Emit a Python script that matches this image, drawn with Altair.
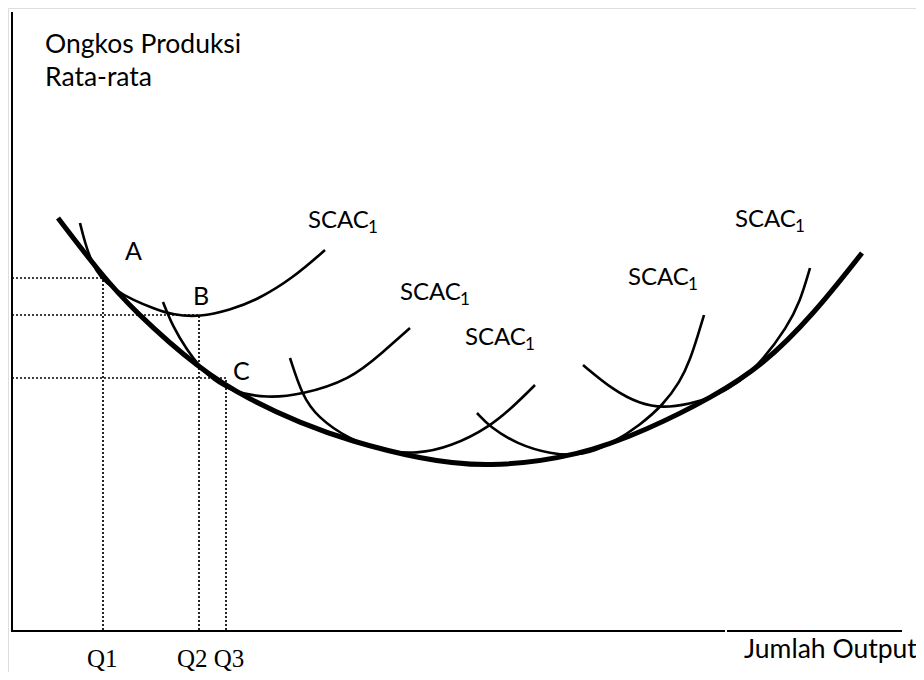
import altair as alt
import pandas as pd

# ---- curve data (x = output position, v = average cost height above axis) ----
lac_x = [58, 100, 133, 200, 250, 300, 350, 420, 487, 580, 647, 713, 763, 813, 862]
lac_v = [412, 357, 320, 260, 230, 207, 189, 171, 162, 174, 200, 233, 265, 315, 377]

scac1_x = [80, 85, 92, 100, 115, 133, 155, 173, 200, 230, 257, 293, 325]
scac1_v = [407, 387, 367, 353, 340, 330, 321, 315, 313, 320, 330, 352, 380]

scac2_x = [163, 173, 187, 200, 213, 233, 267, 300, 350, 383, 410]
scac2_v = [328, 303, 280, 263, 250, 238, 232, 235, 250, 278, 302]

scac3_x = [290, 302, 317, 350, 383, 417, 450, 490, 517, 535]
scac3_v = [272, 235, 213, 190, 179, 176, 183, 203, 227, 245]

scac4_x = [477, 490, 517, 550, 583, 613, 640, 663, 680, 690, 698, 704]
scac4_v = [217, 203, 186, 176, 174, 187, 205, 225, 248, 270, 295, 315]

scac5_x = [583, 613, 640, 663, 690, 713, 740, 763, 787, 800, 810]
scac5_v = [265, 240, 226, 222, 226, 233, 248, 270, 303, 328, 362]

# ---- reference (dotted) lines at Q1, Q2, Q3 ----
q_x = [103, 199, 226]
q_v = [352, 315, 252]

# ---- labels ----
scac_lx = [308, 400, 465, 628, 735]
scac_lv = [402, 330, 285, 345, 403]
pt_text = ["A", "B", "C"]
pt_lx = [125, 193, 233]
pt_lv = [370, 325, 250]
q_text = ["Q1", "Q2 Q3"]
q_lx = [87, 177]
q_lv = [-37, -37]
title_text = ["Ongkos Produksi", "Rata-rata"]
title_lx = [45, 45]
title_lv = [577, 544]
xlabel_text = ["Jumlah Output"]
xlabel_lx = [744]
xlabel_lv = [-28]

# axis segments
yaxis_x = [12]
yaxis_v0 = [-1]
yaxis_v1 = [618]
xaxis_x0 = [11, 727]
xaxis_x1 = [725, 902]
xaxis_v = [-1, -1]

W, H = 908, 664
xs = alt.Scale(domain=[8, 916], nice=False, zero=False)
ys = alt.Scale(domain=[-42, 622], nice=False, zero=False)
X = lambda f: alt.X(f, type="quantitative", scale=xs, axis=None)
Y = lambda f: alt.Y(f, type="quantitative", scale=ys, axis=None)

rows = []
for name, xx, vv in [("s1", scac1_x, scac1_v), ("s2", scac2_x, scac2_v),
                     ("s3", scac3_x, scac3_v), ("s4", scac4_x, scac4_v),
                     ("s5", scac5_x, scac5_v)]:
    for i, (a, b) in enumerate(zip(xx, vv)):
        rows.append({"curve": name, "i": i, "x": a, "v": b})
scac_df = pd.DataFrame(rows)
lac_df = pd.DataFrame({"x": lac_x, "v": lac_v, "i": range(len(lac_x))})

scac_layer = alt.Chart(scac_df).mark_line(
    interpolate="basis", color="black", strokeWidth=2.6, strokeCap="butt"
).encode(x=X("x"), y=Y("v"), detail="curve:N", order="i:Q")

lac_layer = alt.Chart(lac_df).mark_line(
    interpolate="basis", color="black", strokeWidth=5, strokeCap="butt"
).encode(x=X("x"), y=Y("v"), order="i:Q")

qdf = pd.DataFrame({"qx": q_x, "qv": q_v, "x0": [12] * 3, "zero": [0] * 3})
hdot = alt.Chart(qdf).mark_rule(color="black", strokeWidth=1.7, strokeDash=[2, 2]).encode(
    x=X("x0"), x2="qx", y=Y("qv"))
vdot = alt.Chart(qdf).mark_rule(color="black", strokeWidth=1.7, strokeDash=[2, 2]).encode(
    x=X("qx"), y=Y("zero"), y2="qv")

yax = alt.Chart(pd.DataFrame({"x": yaxis_x, "v0": yaxis_v0, "v1": yaxis_v1})).mark_rule(
    color="black", strokeWidth=2).encode(x=X("x"), y=Y("v0"), y2="v1")
xax = alt.Chart(pd.DataFrame({"x0": xaxis_x0, "x1": xaxis_x1, "v": xaxis_v})).mark_rule(
    color="black", strokeWidth=2).encode(x=X("x0"), x2="x1", y=Y("v"))

FONT = "Lato"

def text_layer(texts, lx, lv, font=FONT, size=25, dx=0, dy=0):
    df = pd.DataFrame({"t": texts, "x": lx, "v": lv})
    return alt.Chart(df).mark_text(
        align="left", baseline="alphabetic", font=font, fontSize=size,
        color="black", dx=dx, dy=dy
    ).encode(x=X("x"), y=Y("v"), text="t:N")

scac_main = text_layer(["SCAC"] * 5, scac_lx, scac_lv, size=24)
scac_sub = text_layer(["1"] * 5, scac_lx, scac_lv, size=17, dx=60, dy=5)
pts = text_layer(pt_text, pt_lx, pt_lv, size=25)
qlab = text_layer(q_text, q_lx, q_lv, font="Liberation Serif", size=25)
title = text_layer(title_text, title_lx, title_lv, size=26.5)
xlab = text_layer(xlabel_text, xlabel_lx, xlabel_lv, size=26.5)

chart = alt.layer(
    hdot, vdot, yax, xax, scac_layer, lac_layer,
    scac_main, scac_sub, pts, qlab, title, xlab
).properties(
    width=W, height=H, padding=0, autosize=alt.AutoSizeParams(type="none")
).configure_view(strokeOpacity=0, strokeWidth=0).configure(background="white")

chart.save("out.html", embed_options={"renderer": "svg", "actions": False})
